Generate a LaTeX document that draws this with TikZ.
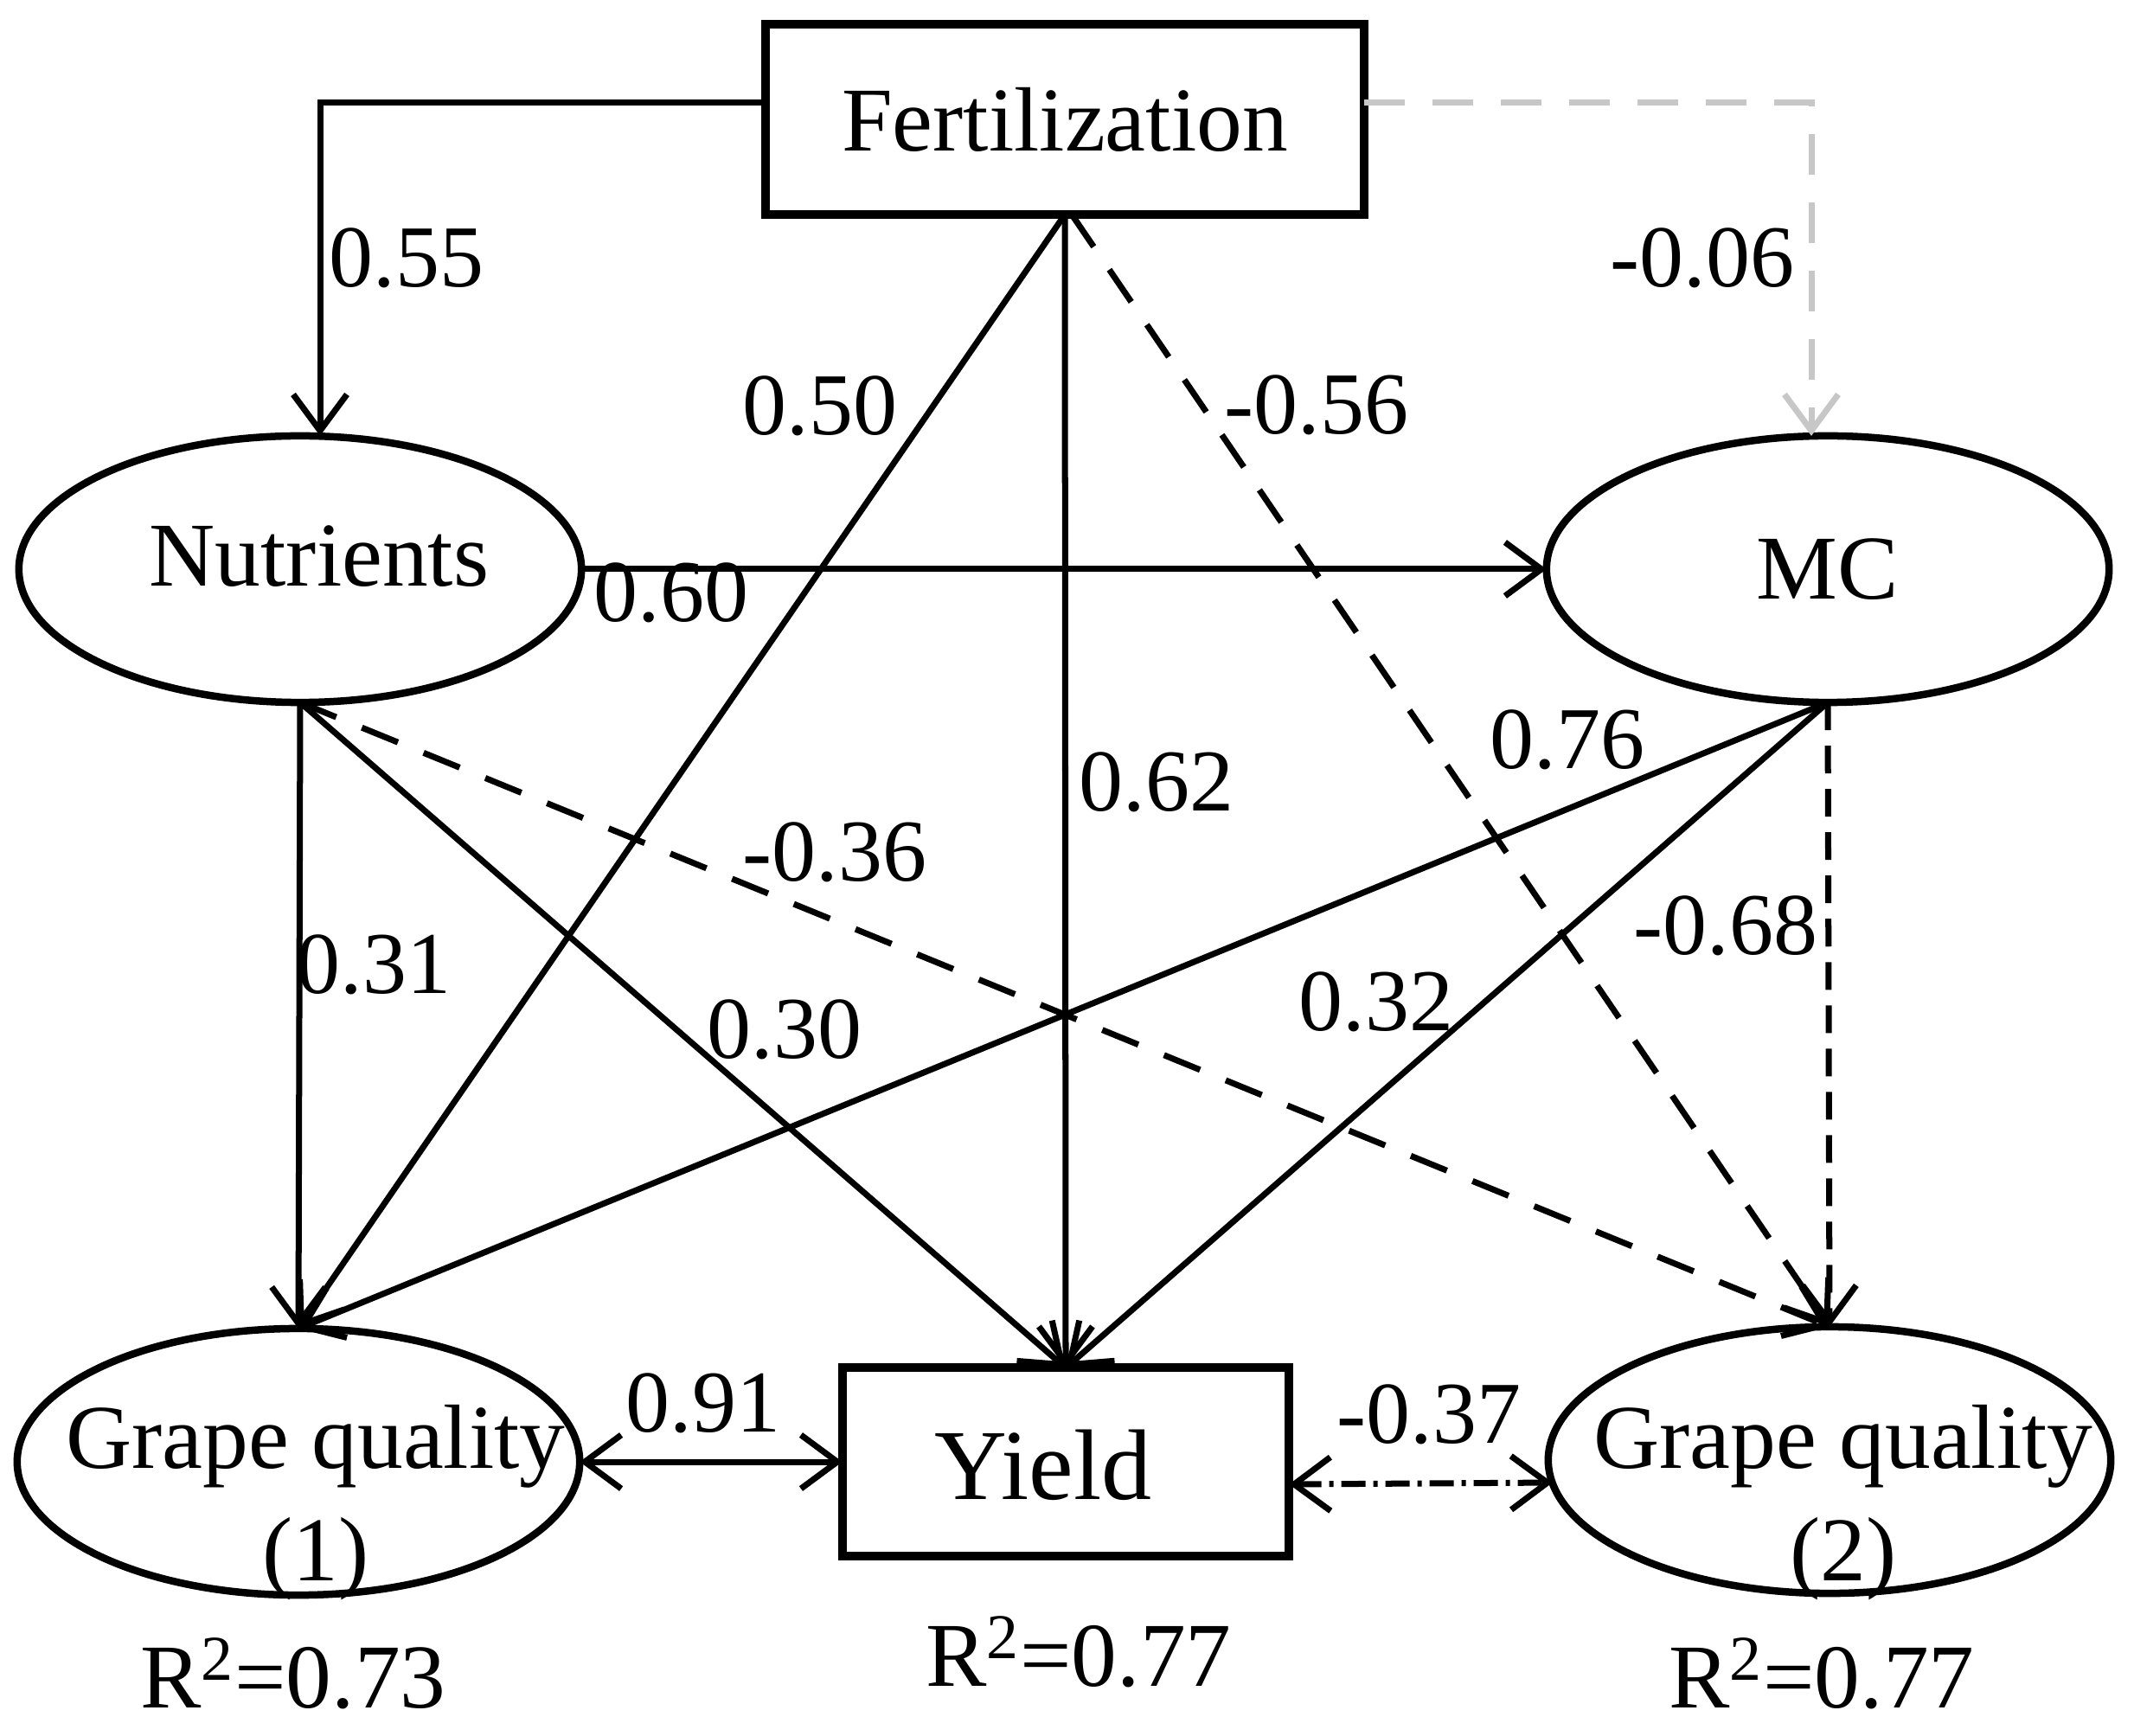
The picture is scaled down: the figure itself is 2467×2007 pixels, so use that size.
\documentclass[tikz,border=0pt]{standalone}
\usepackage{fontspec}
\setmainfont{Liberation Serif}
\usetikzlibrary{arrows.meta,shapes.geometric}
\begin{document}
\begin{tikzpicture}[x=0.01cm,y=-0.01cm,
  every node/.style={font=\fontsize{30}{37}\selectfont},
  boxnode/.style={draw, line width=0.1cm, rectangle, inner sep=0pt, outer sep=0pt},
  ellnode/.style={draw, line width=0.085cm, ellipse, inner sep=0pt, outer sep=0pt, minimum width=6.5cm, minimum height=3.08cm},
  conn/.style={line width=0.07cm, -{Straight Barb[length=0.42cm,width=0.62cm]}},
  biconn/.style={line width=0.07cm, {Straight Barb[length=0.42cm,width=0.62cm]}-{Straight Barb[length=0.42cm,width=0.62cm]}},
  dashconn/.style={conn, dash pattern=on 0.45cm off 0.32cm},
  grayconn/.style={conn, draw=black!22, dash pattern=on 0.47cm off 0.32cm},
  vdashconn/.style={conn, dash pattern=on 0.32cm off 0.18cm},
  dotdashconn/.style={biconn, dash pattern=on 0.28cm off 0.09cm on 0.05cm off 0.09cm},
  num/.style={font=\fontsize{29}{35}\selectfont, inner sep=0pt}
]
\useasboundingbox (0,0) rectangle (2467,2007);

% nodes
\node[boxnode, minimum width=6.91cm, minimum height=2.2cm] (fert) at (1231,138) {Fertilization};
\node[ellnode] (nut) at (347,658) {};
\node[ellnode] (mc) at (2113,658) {MC};
\node[ellnode] (gq1) at (345,1690) {};
\node[ellnode] (gq2) at (2115,1688) {};
\node[boxnode, minimum width=5.16cm, minimum height=2.17cm] (yield) at (1232,1690) {};

\node[inner sep=0pt] (nuttxt) at (369,643) {Nutrients};
\node[inner sep=0pt, font=\fontsize{33}{40}\selectfont] (yieldtxt) at (1206,1694) {Yield};
\node[align=center, inner sep=0pt] (gq1txt) at (365,1737) {Grape quality\\(1)};
\node[align=center, inner sep=0pt] (gq2txt) at (2131,1737) {Grape quality\\(2)};

\node[inner sep=0pt] (r1) at (339,1935) {R\textsuperscript{2}=0.73};
\node[inner sep=0pt] (r2) at (1247,1910) {R\textsuperscript{2}=0.77};
\node[inner sep=0pt] (r3) at (2106,1935) {R\textsuperscript{2}=0.77};

% connectors
\draw[conn] ([yshift=0.19cm]fert.west) -| ([xshift=0.23cm]nut.north);
\draw[grayconn] ([yshift=0.19cm]fert.east) -| ([xshift=-0.19cm]mc.north);
\draw[conn] (nut.east) -- (mc.west);
\draw[conn] (fert.south) -- (gq1.north);
\draw[conn] (fert.south) -- (yield.north);
\draw[dashconn] ([xshift=0.08cm]fert.south) -- (gq2.north);
\draw[conn] (nut.south) -- (gq1.north);
\draw[conn] (nut.south) -- (yield.north);
\draw[dashconn] (nut.south) -- (gq2.north);
\draw[conn] (mc.south) -- (gq1.north);
\draw[conn] (mc.south) -- (yield.north);
\draw[vdashconn] (mc.south) -- (gq2.north);
\draw[biconn] (gq1.east) -- (yield.west);
\draw[dotdashconn] ([yshift=-0.26cm]yield.east) -- ([yshift=-0.26cm, xshift=0.05cm]gq2.west);

% coefficients
\node[num] (l055) at (470,298) {0.55};
\node[num] (l006) at (1968,298) {-0.06};
\node[num] (l050) at (948,469) {0.50};
\node[num] (l056) at (1522,468) {-0.56};
\node[num] (l060) at (776,685) {0.60};
\node[num] (l062) at (1337,904) {0.62};
\node[num] (l076) at (1812,855) {0.76};
\node[num] (l036) at (965,985) {-0.36};
\node[num] (l031) at (432,1115) {0.31};
\node[num] (l068) at (1995,1070) {-0.68};
\node[num] (l030) at (907,1190) {0.30};
\node[num] (l032) at (1591,1158) {0.32};
\node[num] (l091) at (813,1622) {0.91};
\node[num] (l037) at (1652,1635) {-0.37};
\end{tikzpicture}
\end{document}
